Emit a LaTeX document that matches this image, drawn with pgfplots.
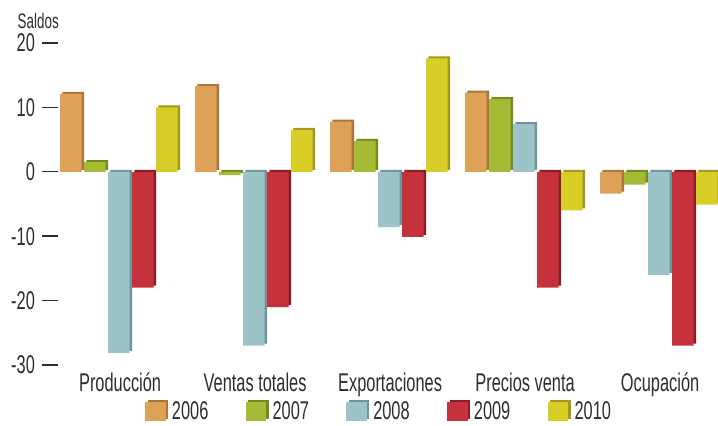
\documentclass[border=0pt]{standalone}
\usepackage{fontspec}
\setmainfont[FakeStretch=0.64]{Liberation Sans}
\usepackage{pgfplots}
\usepackage{pgfplotstable}
\pgfplotsset{compat=1.18}

\definecolor{c06}{RGB}{221,162,87}
\definecolor{c07}{RGB}{165,187,53}
\definecolor{c08}{RGB}{155,195,200}
\definecolor{c09}{RGB}{198,50,60}
\definecolor{c10}{RGB}{216,206,39}
\definecolor{c06d}{RGB}{168,118,62}
\definecolor{c07d}{RGB}{118,138,32}
\definecolor{c08d}{RGB}{108,148,154}
\definecolor{c09d}{RGB}{140,28,38}
\definecolor{c10d}{RGB}{160,152,28}
\definecolor{txt}{RGB}{45,45,45}

% x: 0 Produccion, 1 Ventas totales, 2 Exportaciones, 3 Precios venta, 4 Ocupacion
\pgfplotstableread{
x  a06   a07   a08    a09    a10
0  12.1  1.5   -28.1  -18.0  10.0
1  13.3  -0.5  -27.0  -21.0  6.5
2  7.8   4.8   -8.6   -10.1  17.6
3  12.3  11.3  7.4    -18.0  -6.0
4  -3.4  -2.0  -16.0  -27.0  -5.1
}\saldos

\begin{document}
\begin{tikzpicture}
\useasboundingbox (-29pt,-30.5pt) rectangle (330pt,182.5pt);
\begin{axis}[
    at={(0,0)}, anchor=south west,
    scale only axis, width=330pt, height=161pt,
    ymin=-30, ymax=20, xmin=-0.46, xmax=4.429,
    ytick={-30,-20,...,20},
    xtick={0,...,4},
    xticklabels={Producción,Ventas totales,Exportaciones,Precios venta,Ocupación},
    axis line style={draw=none},
    x tick style={draw=none},
    ytick pos=left, tick align=outside, major tick length=8pt,
    y tick style={draw=txt, line width=0.7pt},
    ticklabel style={font=\fontsize{12.8}{14}\selectfont, text=txt},
    xticklabel style={yshift=7.5pt},
    /pgf/number format/assume math mode=true,
    bar width=10.8pt,
    clip=false,
    legend columns=-1,
    legend style={draw=none, fill=none, at={(0.488,-0.146)}, anchor=center,
        font=\fontsize{12.8}{14}\selectfont, text=txt,
        /tikz/every even column/.append style={column sep=16.7pt}},
]
\addlegendimage{legend image code/.code={\fill[c06d] (1.2pt,-3.4pt) rectangle (11pt,5.6pt); \fill[c06] (0pt,-4.4pt) rectangle (9.8pt,4.6pt);}}
\addlegendentry{2006}
\addlegendimage{legend image code/.code={\fill[c07d] (1.2pt,-3.4pt) rectangle (11pt,5.6pt); \fill[c07] (0pt,-4.4pt) rectangle (9.8pt,4.6pt);}}
\addlegendentry{2007}
\addlegendimage{legend image code/.code={\fill[c08d] (1.2pt,-3.4pt) rectangle (11pt,5.6pt); \fill[c08] (0pt,-4.4pt) rectangle (9.8pt,4.6pt);}}
\addlegendentry{2008}
\addlegendimage{legend image code/.code={\fill[c09d] (1.2pt,-3.4pt) rectangle (11pt,5.6pt); \fill[c09] (0pt,-4.4pt) rectangle (9.8pt,4.6pt);}}
\addlegendentry{2009}
\addlegendimage{legend image code/.code={\fill[c10d] (1.2pt,-3.4pt) rectangle (11pt,5.6pt); \fill[c10] (0pt,-4.4pt) rectangle (9.8pt,4.6pt);}}
\addlegendentry{2010}

% each bar: darker copy shifted up/right for the 3d edge, then the face
\addplot[ybar, forget plot, fill=c06d, draw=none, bar shift=-23.4pt, yshift=1pt] table[x=x, y=a06] {\saldos};
\addplot[ybar, forget plot, fill=c06, draw=none, bar shift=-24.6pt] table[x=x, y=a06] {\saldos};
\addplot[ybar, forget plot, fill=c07d, draw=none, bar shift=-11.4pt, yshift=1pt] table[x=x, y=a07] {\saldos};
\addplot[ybar, forget plot, fill=c07, draw=none, bar shift=-12.6pt] table[x=x, y=a07] {\saldos};
\addplot[ybar, forget plot, fill=c08d, draw=none, bar shift=0.6pt, yshift=1pt] table[x=x, y=a08] {\saldos};
\addplot[ybar, forget plot, fill=c08, draw=none, bar shift=-0.6pt] table[x=x, y=a08] {\saldos};
\addplot[ybar, forget plot, fill=c09d, draw=none, bar shift=12.6pt, yshift=1pt] table[x=x, y=a09] {\saldos};
\addplot[ybar, forget plot, fill=c09, draw=none, bar shift=11.4pt] table[x=x, y=a09] {\saldos};
\addplot[ybar, forget plot, fill=c10d, draw=none, bar shift=24.6pt, yshift=1pt] table[x=x, y=a10] {\saldos};
\addplot[ybar, forget plot, fill=c10, draw=none, bar shift=23.4pt] table[x=x, y=a10] {\saldos};

\node[font=\fontsize{10.5}{12}\selectfont, text=txt, inner sep=0pt, anchor=base]
    at (rel axis cs:-0.03,1.045) {Saldos};
\end{axis}
\end{tikzpicture}
\end{document}
